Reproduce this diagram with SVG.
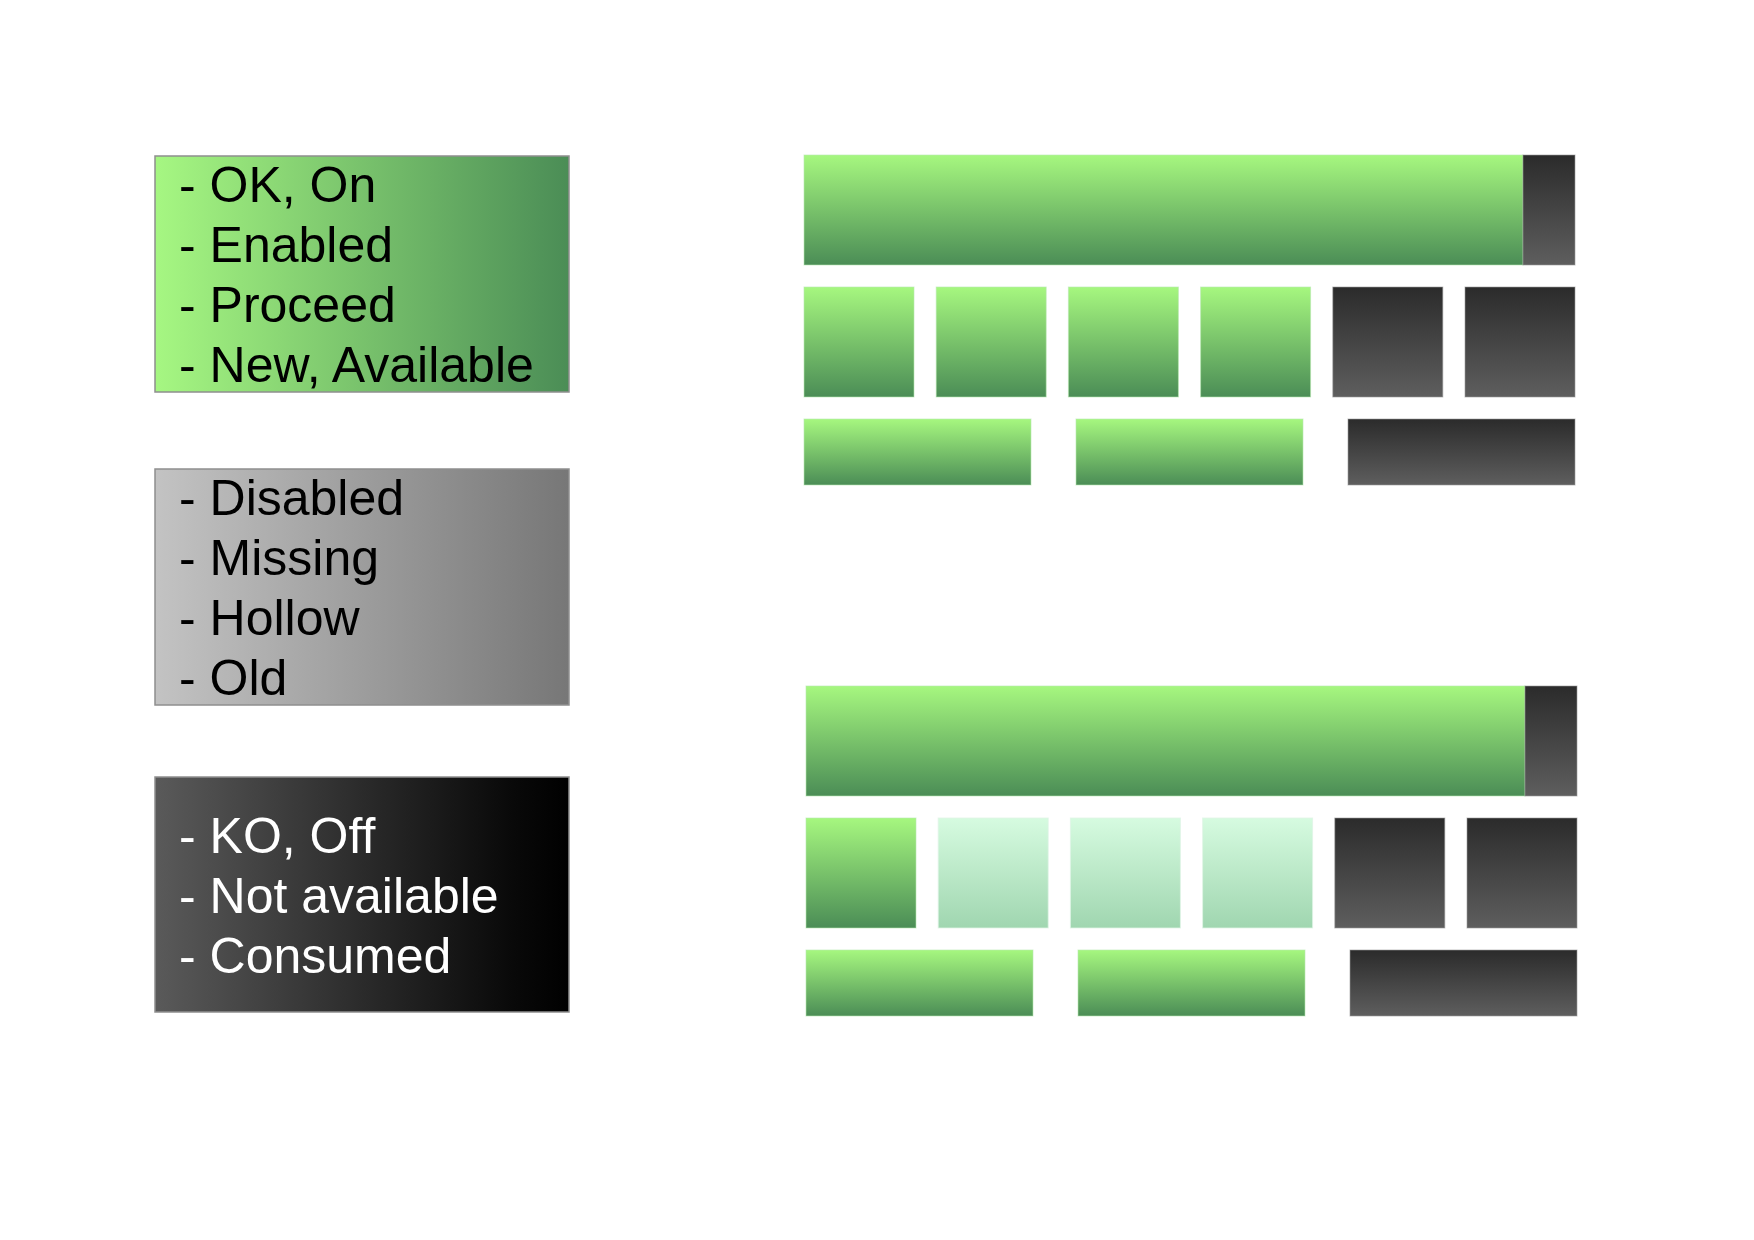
<svg xmlns="http://www.w3.org/2000/svg" width="1754" height="1240" viewBox="0 0 1754 1240">
  <defs>
    <linearGradient id="gH" x1="0" y1="0" x2="1" y2="0">
      <stop offset="0" stop-color="#a6f782"/>
      <stop offset="1" stop-color="#4b8d56"/>
    </linearGradient>
    <linearGradient id="grayH" x1="0" y1="0" x2="1" y2="0">
      <stop offset="0" stop-color="#c3c3c3"/>
      <stop offset="1" stop-color="#777777"/>
    </linearGradient>
    <linearGradient id="darkH" x1="0" y1="0" x2="1" y2="0">
      <stop offset="0" stop-color="#5a5a5a"/>
      <stop offset="0.85" stop-color="#0a0a0a"/>
      <stop offset="1" stop-color="#000000"/>
    </linearGradient>
    <linearGradient id="gV" x1="0" y1="0" x2="0" y2="1">
      <stop offset="0" stop-color="#a6f77f"/>
      <stop offset="1" stop-color="#4b8d56"/>
    </linearGradient>
    <linearGradient id="dV" x1="0" y1="0" x2="0" y2="1">
      <stop offset="0" stop-color="#2b2b2b"/>
      <stop offset="1" stop-color="#5e5e5e"/>
    </linearGradient>
    <linearGradient id="pV" x1="0" y1="0" x2="0" y2="1">
      <stop offset="0" stop-color="#d6fbe0"/>
      <stop offset="1" stop-color="#a0d6b0"/>
    </linearGradient>
  </defs>
  <style>
    .legend { stroke: #8f8f8f; stroke-width: 1.5; }
    .t { font-family: "Liberation Sans", Arial, sans-serif; font-size: 50px; }
    .tb { fill: #000000; }
    .tw { fill: #ffffff; }
    .g { fill: url(#gV); stroke: #b8e8b0; stroke-opacity: 0.6; stroke-width: 1; }
    .d { fill: url(#dV); stroke: #9a9a9a; stroke-opacity: 0.6; stroke-width: 1; }
    .p { fill: url(#pV); stroke: #e0f5e6; stroke-opacity: 0.8; stroke-width: 1; }
  </style>
  <rect width="1754" height="1240" fill="#ffffff"/>

  <g id="legend-green">
    <rect class="legend" x="155" y="156" width="414" height="236" fill="url(#gH)"/>
    <text class="t tb" x="179" y="202">- OK, On</text>
    <text class="t tb" x="179" y="262">- Enabled</text>
    <text class="t tb" x="179" y="322">- Proceed</text>
    <text class="t tb" x="179" y="382">- New, Available</text>
  </g>
  <g id="legend-gray">
    <rect class="legend" x="155" y="469" width="414" height="236" fill="url(#grayH)"/>
    <text class="t tb" x="179" y="515">- Disabled</text>
    <text class="t tb" x="179" y="575">- Missing</text>
    <text class="t tb" x="179" y="635">- Hollow</text>
    <text class="t tb" x="179" y="695">- Old</text>
  </g>
  <g id="legend-dark">
    <rect class="legend" x="155" y="777" width="414" height="235" fill="url(#darkH)"/>
    <text class="t tw" x="179" y="853">- KO, Off</text>
    <text class="t tw" x="179" y="913">- Not available</text>
    <text class="t tw" x="179" y="973">- Consumed</text>
  </g>

  <g id="panel-top">
    <rect class="g" x="804" y="155" width="719" height="110"/>
    <rect class="d" x="1523" y="155" width="52" height="110"/>
    <rect class="g" x="804" y="287" width="110" height="110"/>
    <rect class="g" x="936.2" y="287" width="110" height="110"/>
    <rect class="g" x="1068.4" y="287" width="110" height="110"/>
    <rect class="g" x="1200.6" y="287" width="110" height="110"/>
    <rect class="d" x="1332.8" y="287" width="110" height="110"/>
    <rect class="d" x="1465" y="287" width="110" height="110"/>
    <rect class="g" x="804" y="419" width="227" height="66"/>
    <rect class="g" x="1076" y="419" width="227" height="66"/>
    <rect class="d" x="1348" y="419" width="227" height="66"/>
  </g>

  <g id="panel-bottom">
    <rect class="g" x="806" y="686" width="719" height="110"/>
    <rect class="d" x="1525" y="686" width="52" height="110"/>
    <rect class="g" x="806" y="818" width="110" height="110"/>
    <rect class="p" x="938.2" y="818" width="110" height="110"/>
    <rect class="p" x="1070.4" y="818" width="110" height="110"/>
    <rect class="p" x="1202.6" y="818" width="110" height="110"/>
    <rect class="d" x="1334.8" y="818" width="110" height="110"/>
    <rect class="d" x="1467" y="818" width="110" height="110"/>
    <rect class="g" x="806" y="950" width="227" height="66"/>
    <rect class="g" x="1078" y="950" width="227" height="66"/>
    <rect class="d" x="1350" y="950" width="227" height="66"/>
  </g>

  <g id="connectors"/>
</svg>
